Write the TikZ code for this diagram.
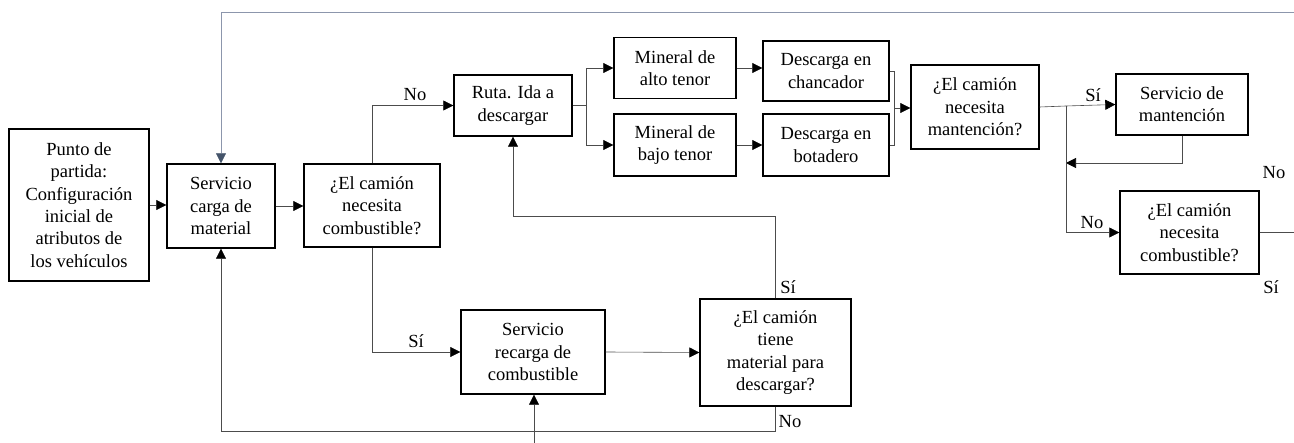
\documentclass[tikz,border=0pt]{standalone}
\usepackage{fontspec}
\setmainfont{Liberation Serif}
\usepackage{tikz}
\usetikzlibrary{arrows.meta}
\usetikzlibrary{positioning}
\definecolor{slateline}{RGB}{140,150,172}
\definecolor{slatetip}{RGB}{68,84,106}
\tikzstyle{line} = [draw, black!70, line width=0.6pt]

\begin{document}
\begin{tikzpicture}[x=1pt, y=-1pt, font=\fontsize{18.5}{22.3}\selectfont,
	block/.style={draw, line width=1.4pt, align=center, inner sep=0pt},
	arrow/.style={line, -{Triangle[length=10pt,width=10pt,color=black]}},
	lbl/.style={inner sep=1pt}]
	\useasboundingbox (0,0) rectangle (1294,443);

	\node[block, minimum width=140, minimum height=152] (start) at (79,205) {Punto de\\partida:\\Configuración\\inicial de\\atributos de\\los vehículos};
	\node[block, minimum width=108, minimum height=84] (carga) at (221,206) {Servicio\\carga de\\material};
	\node[block, minimum width=136, minimum height=83] (comb) at (372,205.5) {¿El camión\\necesita\\combustible?};
	\node[block, minimum width=118, minimum height=61] (ruta) at (513,105.5) {Ruta. Ida a\\descargar};
	\node[block, minimum width=122, minimum height=61] (alto) at (675,68) {Mineral de\\alto tenor};
	\node[block, minimum width=122, minimum height=62] (bajo) at (675,145) {Mineral de\\bajo tenor};
	\node[block, minimum width=126, minimum height=60] (chanc) at (826,71) {Descarga en\\chancador};
	\node[block, minimum width=126, minimum height=62] (bota) at (826,145) {Descarga en\\botadero};
	\node[block, minimum width=128, minimum height=84] (mant) at (975,107) {¿El camión\\necesita\\mantención?};
	\node[block, minimum width=132, minimum height=61] (servm) at (1182,104.5) {Servicio de\\mantención};
	\node[block, minimum width=139, minimum height=83] (combdos) at (1189.5,232.5) {¿El camión\\necesita\\combustible?};
	\node[block, minimum width=144, minimum height=84] (recarga) at (533,352) {Servicio\\recarga de\\combustible};
	\node[block, minimum width=151, minimum height=107] (tiene) at (775.5,352.5) {¿El camión\\tiene\\material para\\descargar?};

	\coordinate (topin) at (1294,12);
	\coordinate (feed) at (534,443);
	\coordinate (split) at (586,105.5);
	\coordinate (merge) at (894,108);
	\coordinate (fork) at (1066,106);
	\coordinate (back) at (1066,163);
	\coordinate (out) at (1294,232.5);

	\draw[line, slateline, -{Triangle[length=10pt,width=10pt,color=slatetip]}] (topin) -| (carga.north);
	\draw[arrow] (start.east) -- (start.east -| carga.west);
	\draw[arrow] (carga.east) -- (carga.east -| comb.west);
	\draw[arrow] (comb.north) |- (ruta.west);
	\draw[arrow] (comb.south) |- (recarga.west);
	\draw[arrow] (recarga.east) -- (tiene.west);
	\draw[arrow] (tiene.north) -- ++(0,-82) -| (ruta.south);
	\draw[arrow] (tiene.south) -- ++(0,25) -| (carga.south);
	\draw[arrow] (feed) -- (feed |- recarga.south);

	\draw[line] (ruta.east) -- (split);
	\draw[arrow] (split) |- (alto.west);
	\draw[arrow] (split) |- (bajo.west);
	\draw[arrow] (alto.east) -- (alto.east -| chanc.west);
	\draw[arrow] (bajo.east) -- (bajo.east -| bota.west);
	\draw[line] (chanc.east) -| (merge);
	\draw[line] (bota.east) -| (merge);
	\draw[arrow] (merge) -- (merge -| mant.west);

	\draw[line] (mant.east) -- (fork);
	\draw[arrow] (fork) -- (servm.west);
	\draw[arrow] (servm.south) |- (back);
	\draw[arrow] (fork) |- (combdos.west);
	\draw[line] (combdos.east) -- (out);

	\node[lbl] (nouno) at (415,95) {No};
	\node[lbl] (siuno) at (416,341) {Sí};
	\node[lbl] (sidos) at (788,287) {Sí};
	\node[lbl] (nodos) at (790,422) {No};
	\node[lbl] (sitres) at (1093,95) {Sí};
	\node[lbl] (notres) at (1092,223) {No};
	\node[lbl] (nocuatro) at (1274,173) {No};
	\node[lbl] (sicuatro) at (1271,287) {Sí};
\end{tikzpicture}
\end{document}
